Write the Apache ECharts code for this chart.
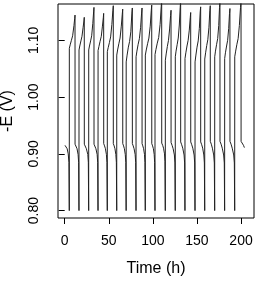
<!DOCTYPE html>
<html>
<head>
<meta charset="utf-8">
<script src="https://cdn.jsdelivr.net/npm/echarts@6/dist/echarts.min.js"></script>
<style>
    html, body {margin: 0; padding: 0; background: #fff;}
    #main {width: 264px; height: 281px;}
</style>
</head>
<body>
<div id="main"></div>
<script>
let xTicks = [0, 50, 100, 150, 200];
let yTicks = [0.80, 0.90, 1.00, 1.10];

// time (h), -E (V) : one line per charge / discharge
let curve = [
    [0.35, 0.915], [1.5, 0.913], [2.8, 0.909], [4.0, 0.900], [4.8, 0.885], [5.2, 0.80],
    [5.25, 1.086], [6.2, 1.092], [7.6, 1.100], [9.0, 1.108], [10.5, 1.126], [11.3, 1.138], [11.7, 1.1445],
    [11.75, 0.917], [12.9, 0.914], [14.0, 0.909], [15.2, 0.899], [15.8, 0.885], [16.2, 0.80],
    [16.25, 1.083], [17.1, 1.090], [18.4, 1.099], [19.6, 1.107], [20.9, 1.123], [21.8, 1.134], [22.2, 1.1405],
    [22.25, 0.917], [23.4, 0.914], [24.6, 0.909], [26.2, 0.899], [26.8, 0.885], [27.2, 0.80],
    [27.25, 1.083], [28.1, 1.090], [29.4, 1.099], [30.6, 1.108], [31.9, 1.130], [32.8, 1.150], [33.2, 1.158],
    [33.25, 0.917], [34.3, 0.914], [35.4, 0.909], [36.8, 0.899], [37.4, 0.885], [37.8, 0.80],
    [37.85, 1.082], [38.8, 1.089], [40.1, 1.098], [41.5, 1.107], [42.8, 1.125], [43.8, 1.140], [44.2, 1.1475],
    [44.25, 0.918], [45.2, 0.914], [46.2, 0.909], [47.3, 0.899], [47.9, 0.885], [48.3, 0.80],
    [48.35, 1.080], [49.3, 1.087], [50.7, 1.096], [52.1, 1.106], [53.5, 1.128], [54.6, 1.152], [55.1, 1.161],
    [55.15, 0.918], [56.1, 0.914], [57.0, 0.909], [58.0, 0.899], [58.6, 0.885], [59.0, 0.80],
    [59.05, 1.074], [60.0, 1.083], [61.4, 1.094], [62.8, 1.104], [64.2, 1.125], [65.3, 1.146], [65.8, 1.155],
    [65.85, 0.918], [66.8, 0.914], [67.7, 0.909], [68.7, 0.899], [69.3, 0.885], [69.7, 0.80],
    [69.75, 1.062], [70.8, 1.074], [72.2, 1.088], [73.6, 1.098], [75.0, 1.115], [76.2, 1.148], [76.7, 1.157],
    [76.75, 0.918], [77.7, 0.914], [78.7, 0.909], [79.9, 0.899], [80.5, 0.885], [80.9, 0.80],
    [80.95, 1.071], [81.9, 1.081], [83.3, 1.093], [84.7, 1.103], [86.1, 1.123], [87.2, 1.148], [87.7, 1.157],
    [87.75, 0.918], [88.6, 0.914], [89.5, 0.909], [90.5, 0.899], [91.0, 0.885], [91.4, 0.80],
    [91.45, 1.074], [92.5, 1.083], [94.0, 1.094], [95.5, 1.104], [97.0, 1.125], [98.2, 1.153], [98.7, 1.162],
    [98.75, 0.918], [99.7, 0.914], [100.6, 0.909], [101.5, 0.899], [102.0, 0.885], [102.4, 0.80],
    [102.45, 1.075], [103.5, 1.084], [105.0, 1.095], [106.6, 1.105], [108.2, 1.128], [109.5, 1.160], [110.0, 1.172],
    [110.05, 0.919], [111.1, 0.915], [112.1, 0.910], [113.2, 0.900], [113.7, 0.886], [114.1, 0.80],
    [114.15, 1.065], [115.1, 1.076], [116.4, 1.089], [117.7, 1.100], [119.0, 1.120], [120.1, 1.144], [120.6, 1.153],
    [120.65, 0.920], [121.8, 0.915], [123.0, 0.909], [124.4, 0.898], [125.0, 0.884], [125.4, 0.80],
    [125.45, 1.071], [126.3, 1.081], [127.6, 1.093], [128.8, 1.104], [130.0, 1.127], [131.0, 1.158], [131.5, 1.170],
    [131.55, 0.921], [132.7, 0.916], [133.9, 0.910], [135.4, 0.898], [136.0, 0.884], [136.4, 0.80],
    [136.45, 1.068], [137.4, 1.078], [138.7, 1.090], [140.0, 1.100], [141.3, 1.118], [142.4, 1.140], [142.9, 1.149],
    [142.95, 0.921], [144.1, 0.916], [145.3, 0.910], [146.8, 0.898], [147.4, 0.884], [147.8, 0.80],
    [147.85, 1.062], [148.8, 1.074], [150.1, 1.088], [151.4, 1.099], [152.7, 1.121], [153.7, 1.150], [154.2, 1.159],
    [154.25, 0.921], [155.4, 0.916], [156.5, 0.910], [157.8, 0.898], [158.4, 0.884], [158.8, 0.80],
    [158.85, 1.067], [159.8, 1.078], [161.1, 1.091], [162.3, 1.101], [163.6, 1.123], [164.6, 1.152], [165.1, 1.161],
    [165.15, 0.922], [166.3, 0.917], [167.5, 0.910], [169.0, 0.898], [169.7, 0.884], [170.1, 0.80],
    [170.15, 1.071], [171.0, 1.081], [172.3, 1.093], [173.5, 1.103], [174.7, 1.126], [175.6, 1.158], [176.1, 1.170],
    [176.15, 0.922], [177.4, 0.917], [178.7, 0.910], [180.3, 0.898], [181.0, 0.884], [181.4, 0.80],
    [181.45, 1.068], [182.3, 1.078], [183.6, 1.090], [184.8, 1.100], [186.0, 1.121], [186.9, 1.147], [187.4, 1.156],
    [187.45, 0.922], [188.7, 0.917], [190.0, 0.910], [191.7, 0.898], [192.4, 0.884], [192.8, 0.80],
    [192.85, 1.071], [193.9, 1.081], [195.3, 1.093], [196.7, 1.103], [198.1, 1.126], [199.4, 1.158], [200.0, 1.170],
    [200.05, 0.922], [201.4, 0.919], [202.8, 0.915], [203.8, 0.911]
];

let FONT = '"Liberation Sans", Arial, sans-serif';

let myChart = echarts.init(document.getElementById('main'), null, {renderer: 'canvas'});

let option = {
    animation: false,
    grid: {
        left: 58, right: 10, top: 4, bottom: 63,
        outerBoundsMode: 'none',
        containLabel: false,
        show: true,
        borderColor: '#000',
        borderWidth: 1,
        backgroundColor: 'transparent'
    },
    xAxis: {
        type: 'value',
        min: -7.6,
        max: 214.7,
        name: 'Time (h)',
        nameLocation: 'middle',
        nameGap: 43,
        nameTextStyle: {fontFamily: FONT, fontSize: 16, color: '#000'},
        axisLine: {show: false},
        axisTick: {show: true, inside: false, length: 6, customValues: xTicks, lineStyle: {color: '#000'}},
        axisLabel: {margin: 16, customValues: xTicks, fontFamily: FONT, fontSize: 14, color: '#000'},
        splitLine: {show: false}
    },
    yAxis: {
        type: 'value',
        min: 0.787,
        max: 1.164,
        name: '-E (V)',
        nameLocation: 'middle',
        nameGap: 42,
        nameTextStyle: {fontFamily: FONT, fontSize: 16, color: '#000'},
        axisLine: {show: false},
        axisTick: {show: true, inside: false, length: 6, customValues: yTicks, lineStyle: {color: '#000'}},
        axisLabel: {
            margin: 17, rotate: 90, customValues: yTicks,
            fontFamily: FONT, fontSize: 14, color: '#000',
            formatter: function (v) { return v.toFixed(2); }
        },
        splitLine: {show: false}
    },
    series: [
        {
            type: 'line',
            data: curve,
            symbol: 'none',
            clip: true,
            lineStyle: {color: '#222', width: 1}
        }
    ]
};

myChart.setOption(option);
</script>
</body>
</html>
